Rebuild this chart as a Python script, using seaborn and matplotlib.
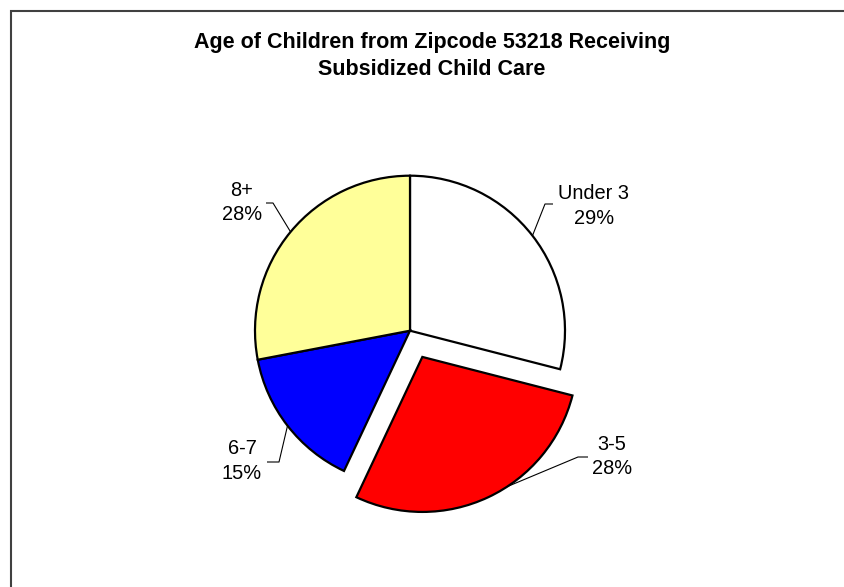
import numpy as np
import matplotlib
matplotlib.use("Agg")
import matplotlib.pyplot as plt
import matplotlib.patches as mpatches
import seaborn as sns

# ---- data ----
categories = ["Under 3", "3-5", "6-7", "8+"]
percents = [29, 28, 15, 28]
colors = ["#FFFFFF", "#FF0000", "#0000FF", "#FFFF99"]
explode_frac = [0, 0.187, 0, 0]
title = "Age of Children from Zipcode 53218 Receiving\nSubsidized Child Care"

sns.set_theme(style="white")
plt.rcParams["font.family"] = ["Liberation Sans", "DejaVu Sans"]

W, H, DPI = 844, 587, 100
fig = plt.figure(figsize=(W / DPI, H / DPI), dpi=DPI)
fig.patch.set_facecolor("white")
ax = fig.add_axes([0, 0, 1, 1])

cx, cy, R = 410, H - 330.7, 155
explode = [e * R for e in explode_frac]
wedges, _ = ax.pie(percents, colors=colors, explode=explode, startangle=90,
                   counterclock=False, radius=R, center=(cx, cy),
                   wedgeprops=dict(edgecolor="black", linewidth=1.6),
                   frame=True)
ax.set_xlim(0, W)
ax.set_ylim(0, H)
ax.set_aspect("equal")
ax.axis("off")

# outer border box
fig.patches.append(mpatches.Rectangle((11 / W, -0.1), 1.2, 1.1 - 11 / H,
                                      transform=fig.transFigure, fill=False,
                                      edgecolor="#404040", linewidth=1.5,
                                      clip_on=False))

# leader line elbows / ends (pixel layout) and label centers
elbows = [(545, 204), (578, 457), (279, 462), (273, 203)]
ends = [(553, 204), (588, 457), (267, 462), (266, 203)]
label_pos = [(594, 206), (612, 456.5), (242, 461), (242, 202.5)]
angle_adj = [0, 8, 0, 0]

for w, cat, p, el, en, lp, adj in zip(wedges, categories, percents, elbows,
                                      ends, label_pos, angle_adj):
    mid = np.deg2rad((w.theta1 + w.theta2) / 2 + adj)
    x0 = w.center[0] + w.r * np.cos(mid)
    y0 = w.center[1] + w.r * np.sin(mid)
    ax.plot([x0, el[0], en[0]], [y0, H - el[1], H - en[1]], color="black",
            linewidth=0.8, solid_capstyle="butt")
    ax.text(lp[0], H - lp[1], f"{cat}\n{p}%", ha="center", va="center",
            fontsize=14.4, linespacing=1.35, color="black")

fig.text(432 / W, 1 - 56 / H, title, ha="center", va="center",
         fontsize=15.5, fontweight="bold", linespacing=1.35, color="black")

fig.savefig("out.png", dpi=DPI, facecolor="white")
